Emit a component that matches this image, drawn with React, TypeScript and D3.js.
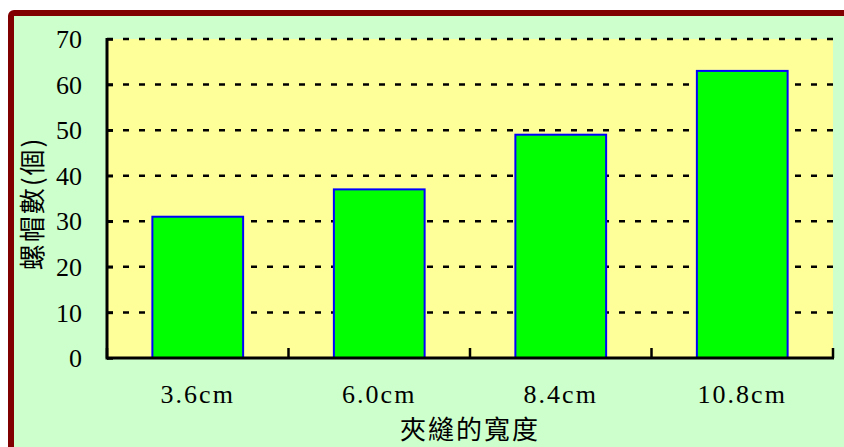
import React, { useEffect, useRef } from 'react';
import * as d3 from 'd3';

const categories = ['3.6cm', '6.0cm', '8.4cm', '10.8cm'];
const counts = [31, 37, 49, 63];
const yTicks = [0, 10, 20, 30, 40, 50, 60, 70];
const xTitle = '夾縫的寬度';
const yTitle = '螺帽數(個)';

const App: React.FC = () => {
  const svgRef = useRef<SVGSVGElement>(null);

  useEffect(() => {
    if (!svgRef.current) return;

    const width = 844;
    const height = 447;
    const svg = d3.select(svgRef.current)
      .attr('width', width)
      .attr('height', height);

    svg.selectAll('*').remove();

    const serif = '"Liberation Serif", "DejaVu Serif", serif';
    const cjk = '"Noto Sans CJK TC", "Noto Sans CJK SC", sans-serif';

    // outer frame
    svg.append('rect')
      .attr('x', 11)
      .attr('y', 13)
      .attr('width', 900)
      .attr('height', 500)
      .attr('rx', 3)
      .attr('fill', '#CCFFCC')
      .attr('stroke', '#800000')
      .attr('stroke-width', 6);

    const left = 107;
    const right = 833;
    const top = 39;
    const bottom = 358;

    const x = d3.scaleBand<string>()
      .domain(categories)
      .range([left, right])
      .paddingInner(0.5)
      .paddingOuter(0.25);

    const y = d3.scaleLinear()
      .domain([0, 70])
      .range([bottom, top]);

    // plot area
    svg.append('rect')
      .attr('x', left)
      .attr('y', top)
      .attr('width', right - left)
      .attr('height', bottom - top)
      .attr('fill', '#FFFF99');

    // dashed grid
    svg.append('g')
      .selectAll('line')
      .data(yTicks.filter(d => d > 0))
      .enter()
      .append('line')
      .attr('x1', left)
      .attr('x2', right)
      .attr('y1', d => y(d))
      .attr('y2', d => y(d))
      .attr('stroke', '#000')
      .attr('stroke-width', 2.5)
      .attr('stroke-dasharray', '6,10');

    // bars
    svg.append('g')
      .selectAll('rect')
      .data(counts)
      .enter()
      .append('rect')
      .attr('x', (d, i) => x(categories[i])!)
      .attr('y', d => y(d))
      .attr('width', x.bandwidth())
      .attr('height', d => bottom - y(d))
      .attr('fill', '#00FF00')
      .attr('stroke', '#0000FF')
      .attr('stroke-width', 2);

    // y axis
    const yAxis = svg.append('g')
      .attr('transform', `translate(${left},0)`)
      .call(d3.axisRight(y).tickValues(yTicks).tickSize(6).tickFormat(() => ''));
    yAxis.select('.domain').remove();
    yAxis.selectAll('line').attr('stroke', '#000').attr('stroke-width', 2.5);

    svg.append('g')
      .selectAll('text')
      .data(yTicks)
      .enter()
      .append('text')
      .attr('x', 82)
      .attr('y', d => y(d))
      .attr('dy', '0.35em')
      .attr('text-anchor', 'end')
      .attr('font-family', serif)
      .attr('font-size', 26)
      .text(d => d);

    // x ticks at category boundaries
    const step = x.step();
    svg.append('g')
      .selectAll('line')
      .data(d3.range(categories.length + 1))
      .enter()
      .append('line')
      .attr('x1', i => left + i * step)
      .attr('x2', i => left + i * step)
      .attr('y1', bottom)
      .attr('y2', bottom - 10)
      .attr('stroke', '#000')
      .attr('stroke-width', 2.5);

    // axis lines
    svg.append('line')
      .attr('x1', left).attr('x2', left)
      .attr('y1', top - 1).attr('y2', bottom + 1.5)
      .attr('stroke', '#000').attr('stroke-width', 3);
    svg.append('line')
      .attr('x1', left).attr('x2', right + 1)
      .attr('y1', bottom).attr('y2', bottom)
      .attr('stroke', '#000').attr('stroke-width', 3);

    // x labels
    svg.append('g')
      .selectAll('text')
      .data(categories)
      .enter()
      .append('text')
      .attr('x', d => x(d)! + x.bandwidth() / 2)
      .attr('y', 394)
      .attr('dy', '0.35em')
      .attr('text-anchor', 'middle')
      .attr('font-family', serif)
      .attr('font-size', 26)
      .attr('letter-spacing', 2)
      .text(d => d);

    svg.append('text')
      .attr('x', (left + right) / 2)
      .attr('y', 430)
      .attr('dy', '0.35em')
      .attr('text-anchor', 'middle')
      .attr('font-family', cjk)
      .attr('font-size', 26)
      .attr('letter-spacing', 2)
      .text(xTitle);

    svg.append('text')
      .attr('transform', `translate(33,${(top + bottom) / 2 + 5}) rotate(-90)`)
      .attr('dy', '0.35em')
      .attr('text-anchor', 'middle')
      .attr('font-family', cjk)
      .attr('font-size', 26)
      .attr('letter-spacing', 2)
      .text(yTitle);
  }, []);

  return (
    <svg ref={svgRef} style={{ position: 'absolute', left: 0, top: 0, display: 'block' }} />
  );
};

export default App;
